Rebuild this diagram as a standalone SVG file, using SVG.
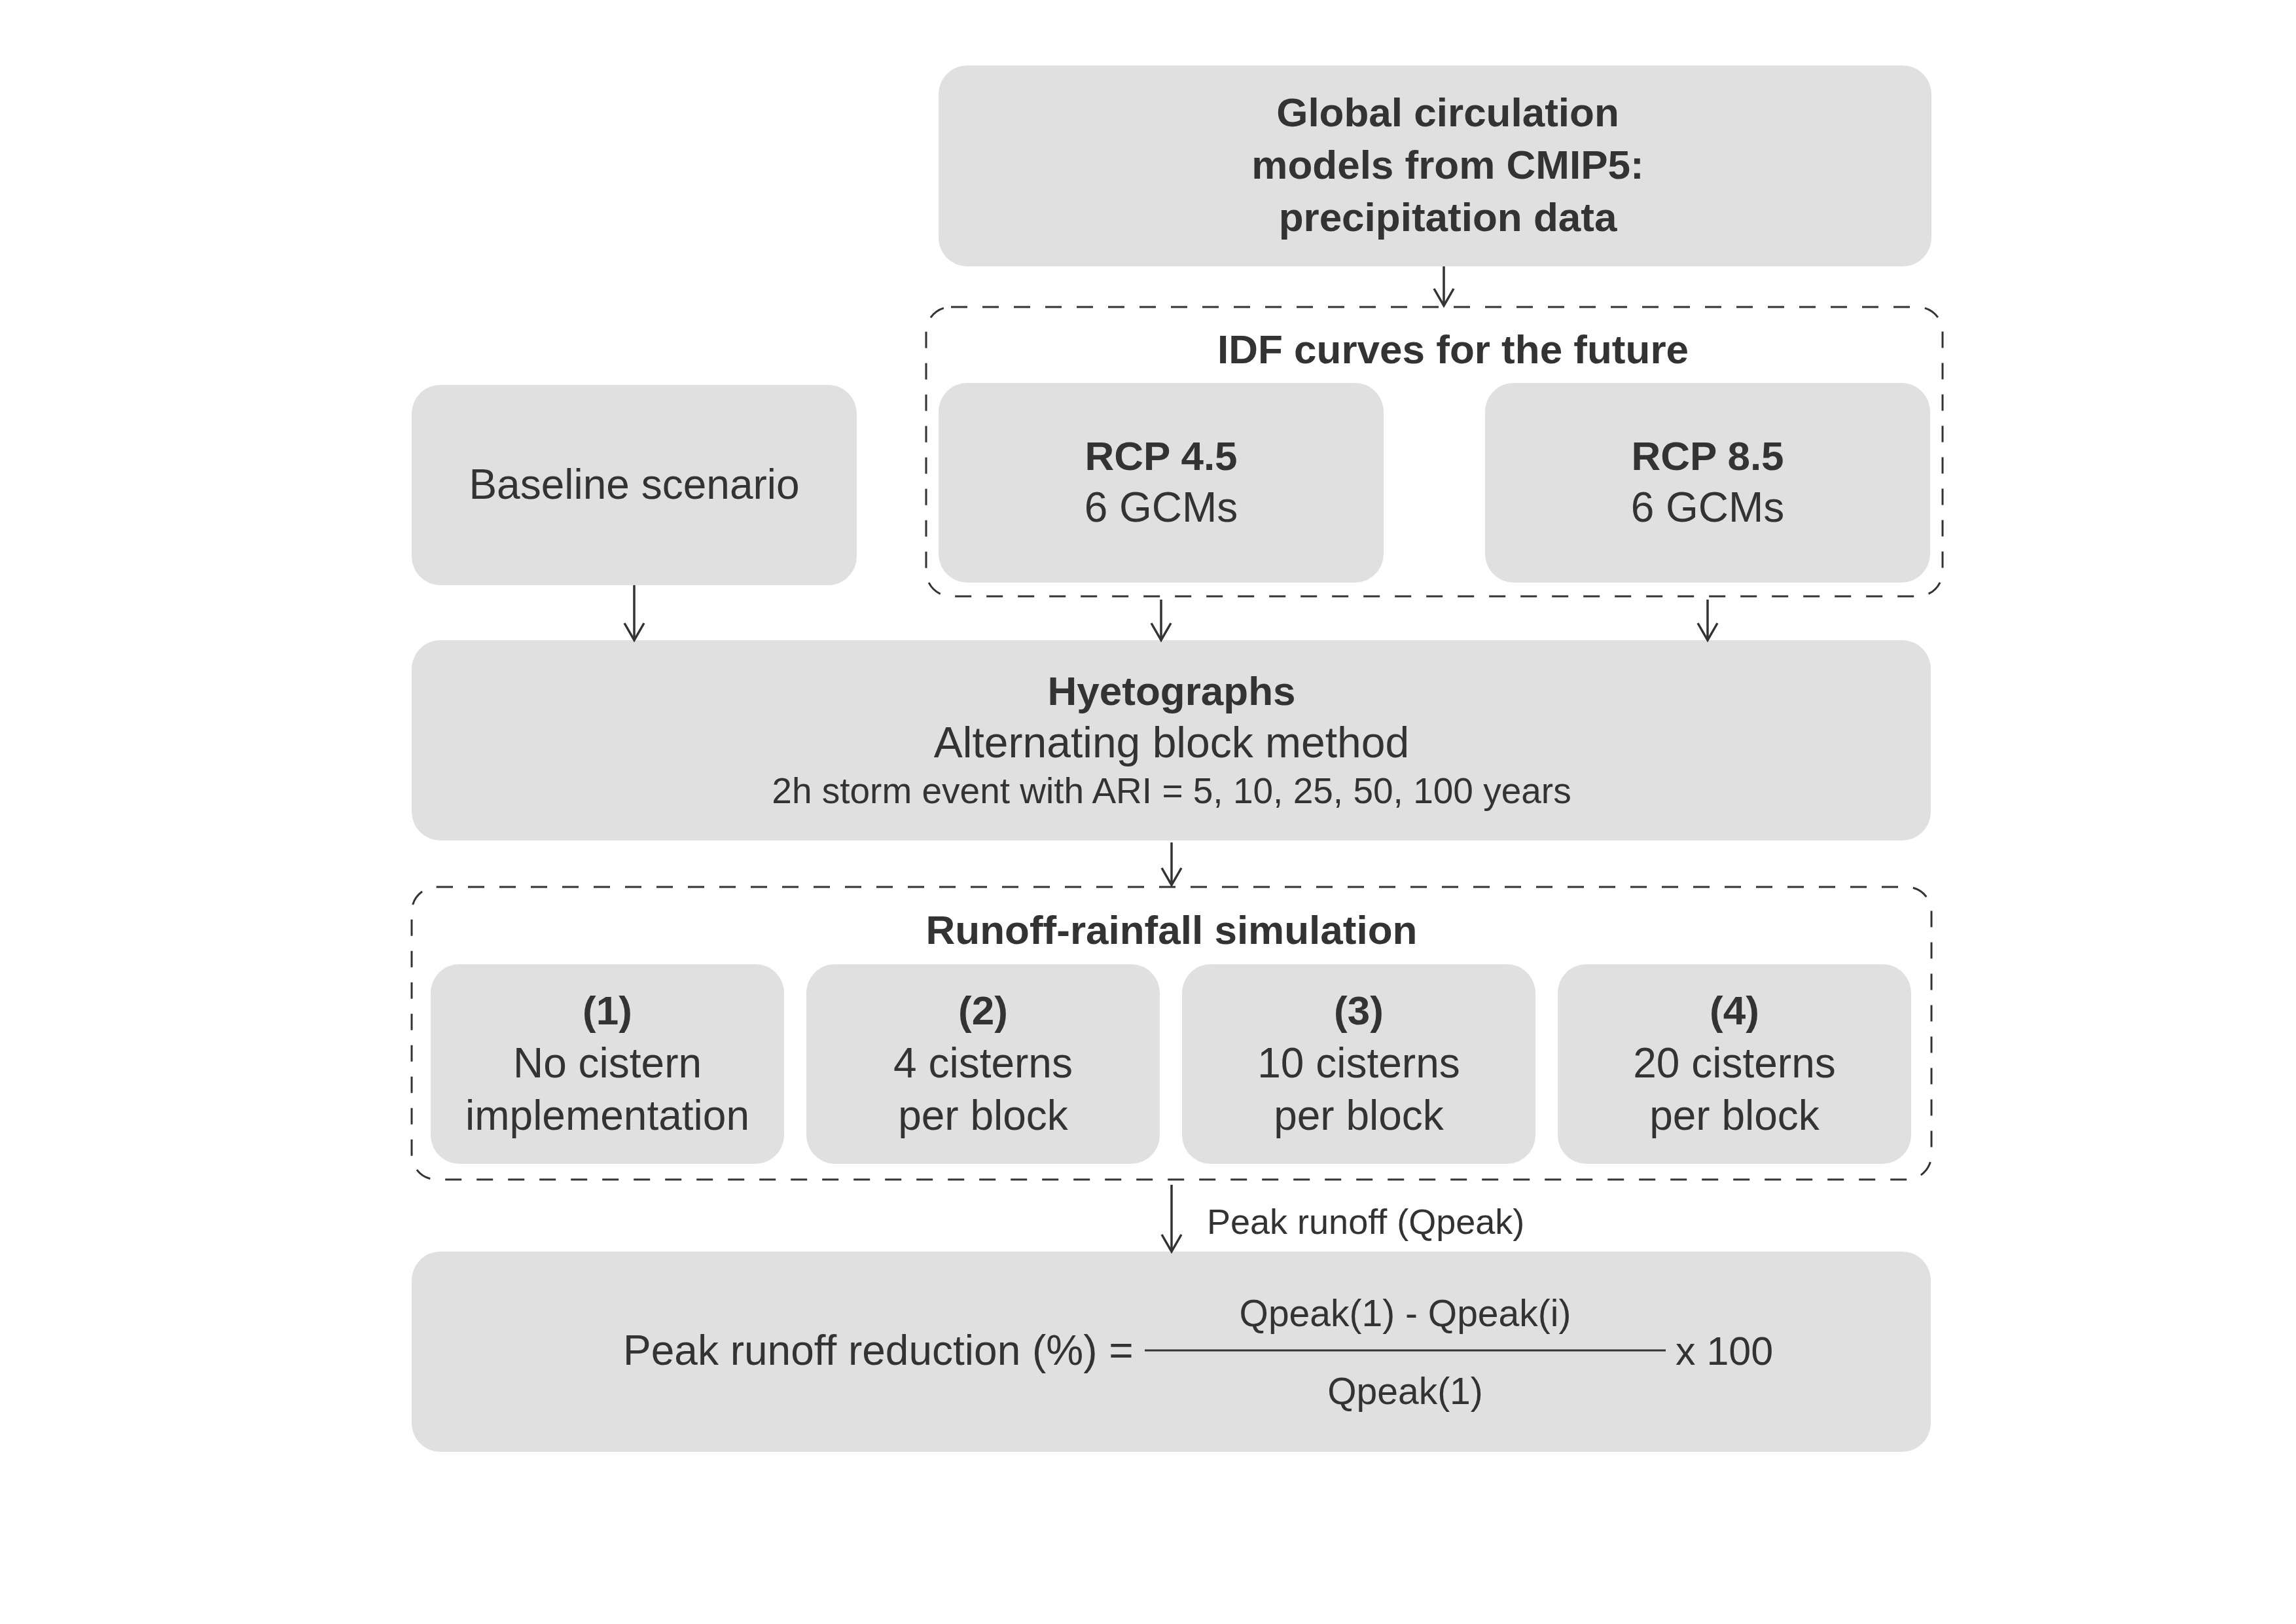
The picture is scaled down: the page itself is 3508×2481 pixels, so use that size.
<svg xmlns="http://www.w3.org/2000/svg" width="3508" height="2481" viewBox="0 0 3508 2481">
<defs>
<style>
.box{fill:#e0e0e0;}
.dash{fill:none;stroke:#333;stroke-width:3;stroke-dasharray:25 23;}
.t{font-family:"Liberation Sans",Arial,sans-serif;fill:#333;text-anchor:middle;font-size:64px;}
.b{font-weight:bold;font-size:62px;}
.s{font-size:55px;}
.lbl{font-family:"Liberation Sans",Arial,sans-serif;fill:#333;font-size:54px;}
.conn{fill:none;stroke:#333;stroke-width:3.5;marker-end:url(#arr);}
</style>
<marker id="arr" viewBox="-30 -20 34 40" refX="0" refY="0" markerWidth="34" markerHeight="40" markerUnits="userSpaceOnUse" orient="auto" overflow="visible">
<path d="M-26,-15 L0,0 L-26,15" fill="none" stroke="#333" stroke-width="3.5"/>
</marker>
</defs>
<rect width="3508" height="2481" fill="#ffffff"/>

<g id="gcm">
<rect class="box" x="1434" y="100" width="1517" height="307" rx="44"/>
<text class="t b" x="2212" y="193">Global circulation</text>
<text class="t b" x="2212" y="273">models from CMIP5:</text>
<text class="t b" x="2212" y="353">precipitation data</text>
</g>

<g id="idf">
<rect class="dash" x="1415" y="469" width="1553" height="442" rx="38"/>
<text class="t b" x="2220" y="555">IDF curves for the future</text>
</g>

<g id="rcp45">
<rect class="box" x="1434" y="585" width="680" height="305" rx="44"/>
<text class="t b" x="1774" y="718">RCP 4.5</text>
<text class="t" x="1774" y="797">6 GCMs</text>
</g>

<g id="rcp85">
<rect class="box" x="2269" y="585" width="680" height="305" rx="44"/>
<text class="t b" x="2609" y="718">RCP 8.5</text>
<text class="t" x="2609" y="797">6 GCMs</text>
</g>

<g id="baseline">
<rect class="box" x="629" y="588" width="680" height="306" rx="44"/>
<text class="t" x="969" y="762">Baseline scenario</text>
</g>

<g id="hyetographs">
<rect class="box" x="629" y="978" width="2321" height="306" rx="44"/>
<text class="t b" x="1790" y="1077">Hyetographs</text>
<text class="t" x="1790" y="1157" style="font-size:66px">Alternating block method</text>
<text class="t s" x="1790" y="1227">2h storm event with ARI = 5, 10, 25, 50, 100 years</text>
</g>

<g id="runoff">
<rect class="dash" x="629" y="1355" width="2322" height="447" rx="38"/>
<text class="t b" x="1790" y="1442">Runoff-rainfall simulation</text>
</g>

<g id="case1">
<rect class="box" x="658" y="1473" width="540" height="305" rx="44"/>
<text class="t b" x="928" y="1565">(1)</text>
<text class="t" x="928" y="1646">No cistern</text>
<text class="t" x="928" y="1726">implementation</text>
</g>

<g id="case2">
<rect class="box" x="1232" y="1473" width="540" height="305" rx="44"/>
<text class="t b" x="1502" y="1565">(2)</text>
<text class="t" x="1502" y="1646">4 cisterns</text>
<text class="t" x="1502" y="1726">per block</text>
</g>

<g id="case3">
<rect class="box" x="1806" y="1473" width="540" height="305" rx="44"/>
<text class="t b" x="2076" y="1565">(3)</text>
<text class="t" x="2076" y="1646">10 cisterns</text>
<text class="t" x="2076" y="1726">per block</text>
</g>

<g id="case4">
<rect class="box" x="2380" y="1473" width="540" height="305" rx="44"/>
<text class="t b" x="2650" y="1565">(4)</text>
<text class="t" x="2650" y="1646">20 cisterns</text>
<text class="t" x="2650" y="1726">per block</text>
</g>

<g id="reduction">
<rect class="box" x="629" y="1912" width="2321" height="306" rx="44"/>
<text class="t" x="952" y="2085" style="text-anchor:start">Peak runoff reduction (%) =</text>
<line x1="1749" y1="2063" x2="2545" y2="2063" stroke="#333" stroke-width="3"/>
<text class="t" x="2147" y="2026" style="font-size:57px">Qpeak(1) - Qpeak(i)</text>
<text class="t" x="2147" y="2145" style="font-size:57px">Qpeak(1)</text>
<text class="t" x="2560" y="2085" style="text-anchor:start;font-size:61px">x 100</text>
</g>

<g id="connectors">
<line class="conn" x1="2206" y1="407" x2="2206" y2="467"/>
<line class="conn" x1="969" y1="894" x2="969" y2="978"/>
<line class="conn" x1="1774" y1="916" x2="1774" y2="978"/>
<line class="conn" x1="2609" y1="916" x2="2609" y2="978"/>
<line class="conn" x1="1790" y1="1287" x2="1790" y2="1352"/>
<line class="conn" x1="1790" y1="1810" x2="1790" y2="1912"/>
<text class="lbl" x="1844" y="1885">Peak runoff (Qpeak)</text>
</g>
</svg>
